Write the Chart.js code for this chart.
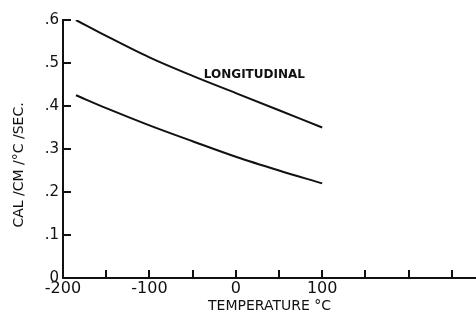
<!DOCTYPE html>
<html>
<head>
<meta charset="utf-8">
<script src="https://cdn.jsdelivr.net/npm/chart.js@4"></script>
<style>
  html, body { margin: 0; padding: 0; background: #fff; }
  #wrap { width: 476px; height: 321px; }
</style>
</head>
<body>
<div id="wrap"><canvas id="myChart"></canvas></div>
<script>
"use strict";

// Data
const temps = [-185, -150, -100, -50, 0, 50, 100];
const longitudinal = [0.600, 0.563, 0.513, 0.470, 0.430, 0.390, 0.350];
const lowerCurve = [0.425, 0.395, 0.355, 0.318, 0.282, 0.250, 0.220];

const xTickValues = [-200, -150, -100, -50, 0, 50, 100, 150, 200, 250];
const xTickLabels = { "-200": "-200", "-100": "-100", "0": "0", "100": "100" };
const yTickValues = [0, 0.1, 0.2, 0.3, 0.4, 0.5, 0.6];

const curveLabel = "LONGITUDINAL";
const curveLabelAt = { x: -37, y: 0.472 };
const yTitle = "CAL /CM /°C /SEC.";
const xTitle = "TEMPERATURE °C";

const ink = "#111";
const font = "'DejaVu Sans', sans-serif";

const ctx = document.getElementById("myChart").getContext("2d");

// inward tick marks, curve label and y title
const extras = {
    id: "extras",
    afterDraw(chart) {
        const c = chart.ctx;
        const x = chart.scales.x;
        const y = chart.scales.y;
        const area = chart.chartArea;
        c.save();
        c.strokeStyle = ink;
        c.lineWidth = 2;
        c.beginPath();
        x.ticks.forEach(t => {
            const px = Math.round(x.getPixelForValue(t.value));
            if (t.value === -200) return;
            c.moveTo(px, area.bottom);
            c.lineTo(px, area.bottom - 8);
        });
        y.ticks.forEach(t => {
            const py = Math.round(y.getPixelForValue(t.value));
            if (t.value === 0) return;
            c.moveTo(area.left, py);
            c.lineTo(area.left + 8, py);
        });
        c.stroke();

        c.fillStyle = ink;
        c.font = "bold 12px " + font;
        c.textAlign = "left";
        c.textBaseline = "middle";
        c.fillText(curveLabel, x.getPixelForValue(curveLabelAt.x), y.getPixelForValue(curveLabelAt.y));

        c.translate(19, 165);
        c.rotate(-Math.PI / 2);
        c.textAlign = "center";
        c.font = "14px " + font;
        c.fillText(yTitle, 0, 0);
        c.restore();
    }
};

const lineStyle = {
    borderColor: ink,
    borderWidth: 2,
    pointRadius: 0,
    fill: false,
    cubicInterpolationMode: "monotone"
};

const config = {
    type: "line",
    data: {
        datasets: [
            Object.assign({ label: "Longitudinal", data: temps.map((t, i) => ({ x: t, y: longitudinal[i] })) }, lineStyle),
            Object.assign({ label: "Lower", data: temps.map((t, i) => ({ x: t, y: lowerCurve[i] })) }, lineStyle)
        ]
    },
    options: {
        responsive: false,
        animation: false,
        layout: { padding: { top: 20, right: 0, left: 0, bottom: 0 } },
        plugins: {
            legend: { display: false },
            tooltip: { enabled: false }
        },
        scales: {
            x: {
                type: "linear",
                min: -200,
                max: 278,
                afterBuildTicks: axis => { axis.ticks = xTickValues.map(v => ({ value: v })); },
                afterFit: axis => { axis.height = 43; },
                grid: { display: false, drawTicks: false },
                border: { display: true, color: ink, width: 2 },
                ticks: {
                    padding: 1,
                    color: ink,
                    font: { family: font, size: 16 },
                    maxRotation: 0,
                    autoSkip: false,
                    callback: v => xTickLabels[String(v)] || ""
                },
                title: {
                    display: true,
                    text: xTitle,
                    color: ink,
                    font: { family: font, size: 14 },
                    padding: { top: 0, bottom: 6 }
                }
            },
            y: {
                min: 0,
                max: 0.6,
                afterBuildTicks: axis => { axis.ticks = yTickValues.map(v => ({ value: v })); },
                afterFit: axis => { axis.width = 63; },
                grid: { display: false, drawTicks: false },
                border: { display: true, color: ink, width: 2 },
                ticks: {
                    padding: 4,
                    color: ink,
                    font: { family: font, size: 15 },
                    callback: v => v === 0 ? "0" : "." + Math.round(v * 10)
                }
            }
        }
    },
    plugins: [extras]
};

const canvas = document.getElementById("myChart");
canvas.width = 476;
canvas.height = 321;
let myChart = new Chart(ctx, config);
</script>
</body>
</html>
